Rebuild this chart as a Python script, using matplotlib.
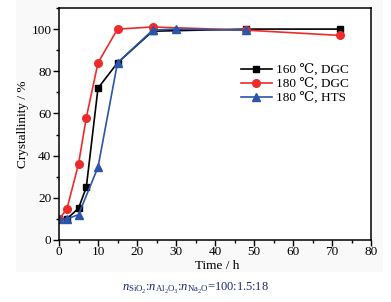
import matplotlib
matplotlib.use('Agg')
from matplotlib import pyplot as plt
from matplotlib.patches import Rectangle
from matplotlib.ticker import MultipleLocator

plt.rcParams['font.family'] = ['Liberation Serif', 'DejaVu Serif']
plt.rcParams['mathtext.fontset'] = 'custom'
plt.rcParams['mathtext.rm'] = 'Liberation Serif'
plt.rcParams['mathtext.it'] = 'Liberation Serif:italic'

# 160 C, DGC
t_160 = [0, 2, 5, 7, 10, 15, 24, 48, 72]
c_160 = [10, 10, 15, 25, 72, 84, 99, 100, 100]
# 180 C, DGC
t_180 = [0, 2, 5, 7, 10, 15, 24, 48, 72]
c_180 = [10, 14.5, 36, 58, 84, 100, 101, 99.5, 97]
# 180 C, HTS
t_hts = [0, 2, 5, 10, 15, 24, 30, 48]
c_hts = [10, 10, 12, 34.5, 84, 99.5, 100, 99.5]

labels = ['160 \u2103, DGC', '180 \u2103, DGC', '180 \u2103, HTS']

fig = plt.figure(figsize=(3.91, 3.02), dpi=100)
fig.patches.append(Rectangle((16/391, 1-272/302), (383-16)/391, 272/302,
                             transform=fig.transFigure, facecolor='#f9f9f9',
                             edgecolor='none', zorder=-10))
ax = fig.add_axes([59/391, 1-240/302, (371-59)/391, (240-8)/302])
ax.set_facecolor('white')

ax.plot(t_160, c_160, color='black', marker='s', markersize=5, lw=1.2, label=labels[0])
ax.plot(t_180, c_180, color='#ee2b2b', marker='o', markersize=5.5, lw=1.2, label=labels[1])
ax.plot(t_hts, c_hts, color='#2a55a8', marker='^', markersize=6, lw=1.2, label=labels[2])

ax.set_xlim(0, 80)
ax.set_ylim(0, 110)
ax.xaxis.set_major_locator(MultipleLocator(10))
ax.xaxis.set_minor_locator(MultipleLocator(5))
ax.yaxis.set_minor_locator(MultipleLocator(10))
ax.set_yticks([0, 20, 40, 60, 80, 100])
ax.tick_params(which='major', direction='out', length=4, width=1, labelsize=9.5, pad=1.5)
ax.tick_params(axis='x', which='major', pad=0.5)
ax.tick_params(which='minor', direction='out', length=2.5, width=1)
for s in ax.spines.values():
    s.set_linewidth(1.1)

ax.set_xlabel('Time / h', fontsize=9.5, labelpad=0)
ax.set_ylabel('Crystallinity / %', fontsize=9.5, labelpad=2)
ax.xaxis.set_label_coords(0.506, 1-(266-8)/232)
ax.xaxis.label.set_va('center')

ax.legend(loc='upper left', bbox_to_anchor=(0.565, 0.78), frameon=False, fontsize=9.5,
          handlelength=2.4, handletextpad=0.3, labelspacing=0.15, borderaxespad=0)

fig.text(0.5, 1-288/302,
         r'$n_{\mathrm{SiO_2}}$:$n_{\mathrm{Al_2O_3}}$:$n_{\mathrm{Na_2O}}$=100:1.5:18',
         ha='center', va='center', fontsize=9, color='#1a2a70')

plt.savefig('out.png', dpi=100)
